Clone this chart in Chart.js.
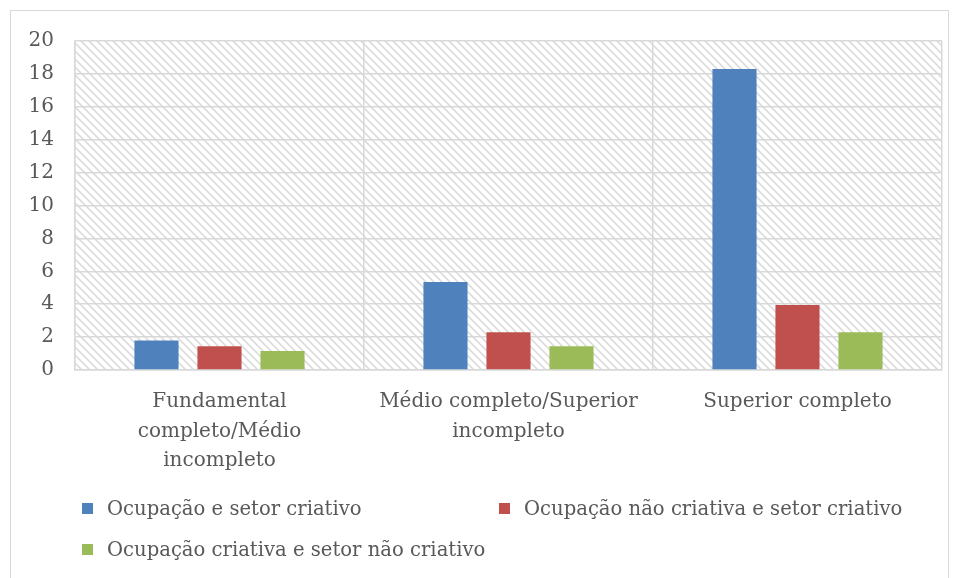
<!DOCTYPE html>
<html>
<head>
<meta charset="utf-8">
<script src="https://cdn.jsdelivr.net/npm/chart.js@4"></script>
<style>
  body { margin: 0; background: #fff; }
  #wrap { position: relative; width: 955px; height: 578px; overflow: hidden; }
  #frame { position: absolute; left: 10px; top: 10px; width: 939px; height: 600px; border: 1px solid #d9d9d9; box-sizing: border-box; }
  #legend { position: absolute; left: 0; top: 0; font-family: "DejaVu Serif", serif; font-size: 19.6px; color: #595959; }
  .item { position: absolute; white-space: nowrap; line-height: 22px; }
  .item span { display: inline-block; width: 11px; height: 11px; margin-right: 14px; vertical-align: 1px; }
</style>
</head>
<body>
<div id="wrap">
  <div id="frame"></div>
  <canvas id="myChart" width="955" height="578"></canvas>
  <div id="legend"></div>
</div>
<script>
// categorias e séries
const categories = [
  ['Fundamental', 'completo/Médio', 'incompleto'],
  ['Médio completo/Superior', 'incompleto'],
  ['Superior completo']
];
const seriesNames = [
  'Ocupação e setor criativo',
  'Ocupação não criativa e setor criativo',
  'Ocupação criativa e setor não criativo'
];
const seriesColors = ['#4f81bd', '#c0504d', '#9bbb59'];
const setorCriativo = [1.8, 5.35, 18.3];
const naoCriativaSetor = [1.45, 2.3, 3.95];
const criativaNaoSetor = [1.15, 1.45, 2.3];
const yTicks = [0, 2, 4, 6, 8, 10, 12, 14, 16, 18, 20];

// fundo hachurado da área do gráfico
function makeHatch() {
  const c = document.createElement('canvas');
  c.width = 8; c.height = 8;
  const g = c.getContext('2d');
  g.strokeStyle = '#dcdcdc';
  g.lineWidth = 1.6;
  g.beginPath();
  g.moveTo(-2, -2); g.lineTo(10, 10);
  g.moveTo(-2, 6); g.lineTo(2, 10);
  g.moveTo(6, -2); g.lineTo(10, 2);
  g.stroke();
  return c;
}

const hatchPlugin = {
  id: 'hatch',
  beforeDraw(chart) {
    const ctx = chart.ctx;
    const a = chart.chartArea;
    ctx.save();
    ctx.fillStyle = ctx.createPattern(makeHatch(), 'repeat');
    ctx.fillRect(a.left, a.top, a.right - a.left, a.bottom - a.top);
    ctx.restore();
  }
};

const ctx = document.getElementById('myChart').getContext('2d');
const myChart = new Chart(ctx, {
  type: 'bar',
  data: {
    labels: categories,
    datasets: [
      { label: seriesNames[0], data: setorCriativo, backgroundColor: seriesColors[0] },
      { label: seriesNames[1], data: naoCriativaSetor, backgroundColor: seriesColors[1] },
      { label: seriesNames[2], data: criativaNaoSetor, backgroundColor: seriesColors[2] }
    ]
  },
  options: {
    responsive: false,
    animation: false,
    categoryPercentage: 0.654,
    barPercentage: 0.7,
    layout: { padding: { left: 10, top: 41, right: 13, bottom: 98 } },
    plugins: {
      legend: { display: false },
      tooltip: { enabled: false }
    },
    scales: {
      x: {
        grid: { color: '#d9d9d9', lineWidth: 1.5, drawTicks: false, offset: true },
        border: { color: '#d9d9d9', width: 1.5 },
        ticks: {
          font: { family: '"DejaVu Serif", serif', size: 20, lineHeight: 1.48 },
          color: '#595959', padding: 17, maxRotation: 0
        },
        afterFit(scale) { scale.height = 110; }
      },
      y: {
        min: 0,
        max: 20,
        afterBuildTicks(scale) { scale.ticks = yTicks.map(v => ({ value: v })); },
        grid: { color: '#d9d9d9', lineWidth: 1.5, drawTicks: false },
        border: { color: '#d9d9d9', width: 1.5 },
        ticks: { font: { family: '"DejaVu Serif", serif', size: 20 }, color: '#595959', padding: 21 },
        afterFit(scale) { scale.width = 65; }
      }
    }
  },
  plugins: [hatchPlugin]
});

// legenda em grade, como no original
const legendPos = [[82, 498], [499, 498], [82, 539]];
const legend = document.getElementById('legend');
seriesNames.forEach((name, i) => {
  const el = document.createElement('div');
  el.className = 'item';
  el.style.left = legendPos[i][0] + 'px';
  el.style.top = legendPos[i][1] + 'px';
  el.innerHTML = '<span style="background:' + seriesColors[i] + '"></span>' + name;
  legend.appendChild(el);
});
</script>
</body>
</html>
